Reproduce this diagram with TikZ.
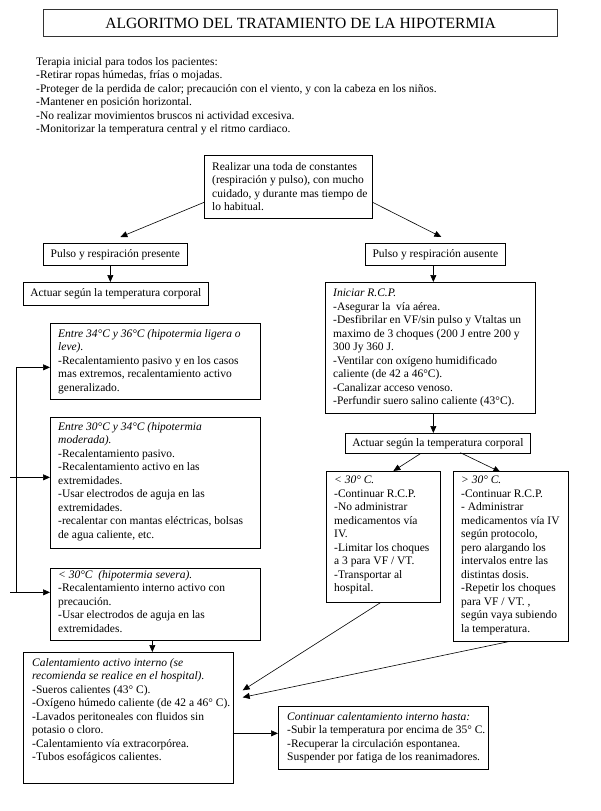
\documentclass[tikz,border=0pt]{standalone}
\usepackage{fontspec}
\setmainfont{Liberation Serif}
\usetikzlibrary{arrows.meta,calc}
\tikzset{
  bx/.style={draw=black, line width=0.7pt, anchor=north west, inner sep=0pt},
  fnt/.style={font=\fontsize{11.5}{13.5}\selectfont},
  tx/.style={fnt, anchor=north west, inner sep=0pt, align=left},
  arr/.style={line width=0.6pt, -{Triangle[length=7pt,width=6pt]}},
  ln/.style={line width=0.6pt},
}
\begin{document}
\begin{tikzpicture}[x=1pt,y=-1pt]
\useasboundingbox[fill=white] (0,0) rectangle (600,811);

% title
\node[bx, draw=black!80, line width=1.1pt, minimum width=514pt, minimum height=27pt,
      font=\fontsize{15.6}{18}\selectfont] (title) at (43,9) {ALGORITMO DEL TRATAMIENTO DE LA HIPOTERMIA};

% intro
\node[tx] (intro) at (36,57) {Terapia inicial para todos los pacientes:\\
-Retirar ropas húmedas, frías o mojadas.\\
-Proteger de la perdida de calor; precaución con el viento, y con la cabeza en los niños.\\
-Mantener en posición horizontal.\\
-No realizar movimientos bruscos ni actividad excesiva.\\
-Monitorizar la temperatura central y el ritmo cardiaco.};

% top box
\node[bx, minimum width=168pt, minimum height=63pt] (top) at (204,155) {};
\node[tx] (topt) at (212,162) {Realizar una toda de constantes\\
(respiración y pulso), con mucho\\
cuidado, y durante mas tiempo de\\
lo habitual.};

% branches
\node[bx, fnt, minimum width=144pt, minimum height=22pt] (pp) at (43,243) {Pulso y respiración presente};
\node[bx, fnt, minimum width=140pt, minimum height=22pt] (pa) at (365,243) {Pulso y respiración ausente};
\node[bx, fnt, minimum width=185pt, minimum height=23pt] (act1) at (23,282) {Actuar según la temperatura corporal};

% RCP
\node[bx, minimum width=210pt, minimum height=131pt] (rcp) at (325,282) {};
\node[tx] (rcpt) at (333,289) {\textit{Iniciar R.C.P.}\\
-Asegurar la\ \ vía aérea.\\
-Desfibrilar en VF/sin pulso y Vtaltas un\\
maximo de 3 choques (200 J entre 200 y\\
300 Jy 360 J.\\
-Ventilar con oxígeno humidificado\\
caliente (de 42 a 46°C).\\
-Canalizar acceso venoso.\\
-Perfundir suero salino caliente (43°C).};

\node[bx, fnt, minimum width=185pt, minimum height=20pt] (act2) at (345,433) {Actuar según la temperatura corporal};

% < 30
\node[bx, minimum width=114pt, minimum height=131pt] (lt) at (326,471) {};
\node[tx] (ltt) at (334,476) {\textit{< 30° C.}\\
-Continuar R.C.P.\\
-No administrar\\
medicamentos vía\\
IV.\\
-Limitar los choques\\
a 3 para VF / VT.\\
-Transportar al\\
hospital.};

% > 30
\node[bx, minimum width=115pt, minimum height=170pt] (gt) at (453,471) {};
\node[tx] (gtt) at (461,476) {\textit{> 30° C.}\\
-Continuar R.C.P.\\
- Administrar\\
medicamentos vía IV\\
según protocolo,\\
pero alargando los\\
intervalos entre las\\
distintas dosis.\\
-Repetir los choques\\
para VF / VT. ,\\
según vaya subiendo\\
la temperatura.};

% left boxes
\node[bx, minimum width=210pt, minimum height=76pt] (b1) at (50,323) {};
\node[tx] (b1t) at (58,329) {\textit{Entre 34°C y 36°C (hipotermia ligera o}\\
\textit{leve).}\\
-Recalentamiento pasivo y en los casos\\
mas extremos, recalentamiento activo\\
generalizado.};

\node[bx, minimum width=210pt, minimum height=131pt] (b2) at (50,417) {};
\node[tx] (b2t) at (58,422) {\textit{Entre 30°C y 34°C (hipotermia}\\
\textit{moderada).}\\
-Recalentamiento pasivo.\\
-Recalentamiento activo en las\\
extremidades.\\
-Usar electrodos de aguja en las\\
extremidades.\\
-recalentar con mantas eléctricas, bolsas\\
de agua caliente, etc.};

\node[bx, minimum width=210pt, minimum height=72pt] (b3) at (50,568) {};
\node[tx] (b3t) at (58,570) {\textit{< 30°C\ \ (hipotermia severa).}\\
-Recalentamiento interno activo con\\
precaución.\\
-Usar electrodos de aguja en las\\
extremidades.};

% calentamiento
\node[bx, minimum width=210pt, minimum height=131pt] (cal) at (23,652) {};
\node[tx] (calt) at (32,658) {\textit{Calentamiento activo interno (se}\\
\textit{recomienda se realice en el hospital).}\\
-Sueros calientes (43° C).\\
-Oxígeno húmedo caliente (de 42 a 46° C).\\
-Lavados peritoneales con fluidos sin\\
potasio o cloro.\\
-Calentamiento vía extracorpórea.\\
-Tubos esofágicos calientes.};

% continuar
\node[bx, minimum width=210pt, minimum height=63pt] (cont) at (278,706) {};
\node[tx] (contt) at (287,712) {\textit{Continuar calentamiento interno hasta:}\\
-Subir la temperatura por encima de 35° C.\\
-Recuperar la circulación espontanea.\\
Suspender por fatiga de los reanimadores.};

% connectors
\draw[arr] ([yshift=-15.5pt]top.west) -- ([xshift=5pt,yshift=6pt]pp.north);
\draw[arr] ([yshift=-15.5pt]top.east) -- ([xshift=6pt,yshift=6pt]pa.north);
\coordinate (p1) at ([xshift=-5pt]pp.south);
\draw[arr] (p1) -- (p1 |- act1.north);
\coordinate (p2) at ([xshift=-2pt]pa.south);
\draw[arr] (p2) -- (p2 |- rcp.north);
\coordinate (p3) at ([xshift=3pt]rcp.south);
\draw[arr] (p3) -- (p3 |- act2.north);
\draw[arr] ([xshift=-17.5pt]act2.south) -- ([xshift=10pt]lt.north);
\draw[arr] ([xshift=22.5pt,yshift=1pt]act2.south) -- ([xshift=-10.5pt,yshift=-1pt]gt.north);
\draw[arr] ([xshift=-3pt]lt.south) -- ([xshift=9pt,yshift=27.5pt]cal.east);
\draw[arr] ([xshift=-2.5pt]gt.south) -- ([xshift=9pt,yshift=20.5pt]cal.east);
\coordinate (p6) at ([xshift=-3pt]b3.south);
\draw[arr] (p6) -- (p6 |- cal.north);
\coordinate (c1) at ([yshift=4.5pt]cont.west);
\draw[arr] ([xshift=-1pt]cal.east |- c1) -- (c1);

% left bracket
\coordinate (k1) at ([yshift=-6pt]b1.west);
\coordinate (k2) at ([yshift=5.5pt]b2.west);
\coordinate (k3) at ([yshift=12pt]b3.west);
\coordinate (v1) at ([xshift=-34pt]k1);
\draw[ln] (v1) -- (v1 |- k3);
\draw[arr] (v1) -- (k1);
\draw[arr] ([xshift=-40pt]k2) -- (k2);
\draw[arr] ([xshift=-40pt]k3) -- (k3);
\end{tikzpicture}
\end{document}
